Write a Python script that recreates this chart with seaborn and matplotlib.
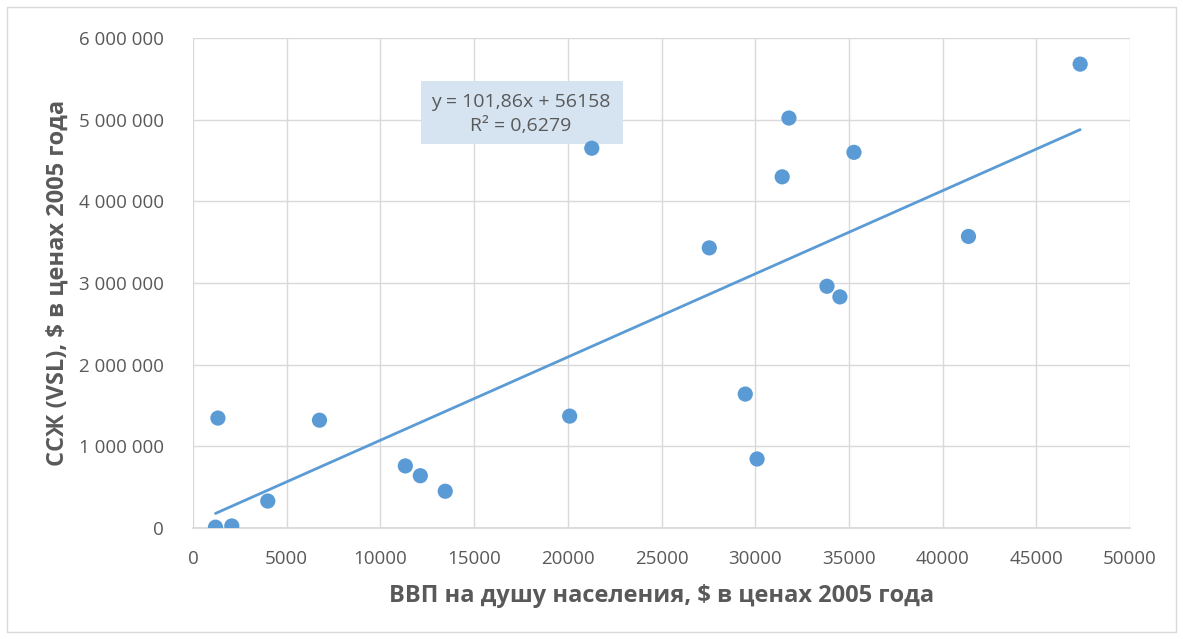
import matplotlib
matplotlib.use("Agg")
import matplotlib.pyplot as plt
import matplotlib.patches as mpatches
import matplotlib.ticker as mticker
import numpy as np
import pandas as pd
import seaborn as sns

# Data
gdp_per_capita = [1200, 2070, 1330, 3990, 6750, 11330, 12130, 13460, 20100, 21280,
                  27550, 29470, 30100, 31440, 31800, 33830, 34520, 35270, 41380, 47340]
vsl = [10000, 25000, 1346000, 330000, 1320000, 760000, 640000, 450000, 1370000, 4650000,
       3430000, 1640000, 845000, 4300000, 5020000, 2960000, 2830000, 4600000, 3570000, 5680000]
trend_slope = 101.86
trend_intercept = 56158
r_squared = 0.6279
x_ticks = [0, 5000, 10000, 15000, 20000, 25000, 30000, 35000, 40000, 45000, 50000]
y_ticks = [0, 1000000, 2000000, 3000000, 4000000, 5000000, 6000000]
x_title = "ВВП на душу населения, $ в ценах 2005 года"
y_title = "ССЖ (VSL), $ в ценах 2005 года"

df = pd.DataFrame({"gdp": gdp_per_capita, "vsl": vsl})

sns.set_theme(style="white")
plt.rcParams['font.family'] = ['Open Sans', 'DejaVu Sans']

W, H = 1183, 639
L, R, T, B = 193, 1130, 38, 528
fig = plt.figure(figsize=(W/100, H/100), dpi=100)
ax = fig.add_axes([L/W, 1-B/H, (R-L)/W, (B-T)/H])

blue = "#5b9bd5"
text_gray = "#595959"
grid_gray = "#d9d9d9"

# trend line
xs = np.array([min(gdp_per_capita), max(gdp_per_capita)])
ax.plot(xs, trend_slope * xs + trend_intercept, color=blue, lw=2.0, zorder=2)

sns.scatterplot(data=df, x="gdp", y="vsl", ax=ax, color=blue, s=120,
                edgecolor="none", zorder=4, legend=False)

ax.set_xlim(0, 50000)
ax.set_ylim(0, 6000000)
ax.set_xticks(x_ticks)
ax.set_yticks(y_ticks)
ax.yaxis.set_major_formatter(mticker.FuncFormatter(lambda v, p: f"{int(v):,}".replace(",", " ")))
ax.xaxis.set_major_formatter(mticker.FuncFormatter(lambda v, p: f"{int(v)}"))
ax.tick_params(axis="x", length=0, labelsize=13.5, labelcolor=text_gray, pad=16)
ax.tick_params(axis="y", length=0, labelsize=13.5, labelcolor=text_gray, pad=21)
ax.grid(True, color=grid_gray, lw=1)
ax.set_axisbelow(True)
for s in ["top", "right", "left"]:
    ax.spines[s].set_visible(False)
ax.spines["bottom"].set_color(grid_gray)

ax.set_xlabel(x_title, fontsize=17, fontweight="bold", color=text_gray, va="center")
ax.xaxis.set_label_coords(0.5, (B-596)/(B-T))
ax.set_ylabel(y_title, fontsize=17, fontweight="bold", color=text_gray, va="center")
ax.yaxis.set_label_coords((58-L)/(R-L), 0.5)

# equation label
bx0, bx1, by0, by1 = 421, 623, 81, 144
ax.add_patch(mpatches.Rectangle(((bx0-L)/(R-L), (B-by1)/(B-T)), (bx1-bx0)/(R-L), (by1-by0)/(B-T),
                                transform=ax.transAxes, fc="#d6e3f1", ec="none", zorder=3))
eq = f"y = {trend_slope:.2f}x + {trend_intercept}".replace(".", ",")
r2 = f"R² = {r_squared:.4f}".replace(".", ",")
ax.text((521-L)/(R-L), (B-114)/(B-T), eq + "\n" + r2, transform=ax.transAxes,
        ha="center", va="center", fontsize=14, color=text_gray, linespacing=1.45, zorder=3.5)

# outer frame
fig.patches.append(mpatches.Rectangle((7/W, 7/H), 1169/W, 625/H,
                                      transform=fig.transFigure, fill=False,
                                      ec="#d9d9d9", lw=1))

fig.savefig("out.png", dpi=100)
